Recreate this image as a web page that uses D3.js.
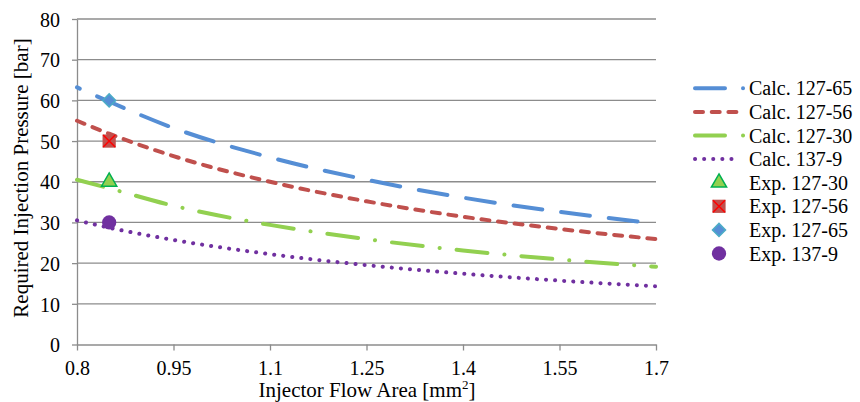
<!DOCTYPE html>
<html>
<head>
<meta charset="utf-8">
<script src="https://cdn.jsdelivr.net/npm/d3@7"></script>
<style>
  body { margin: 0; background: #fff; }
  svg text { font-family: "Liberation Serif", "Times New Roman", serif; fill: #000; }
</style>
</head>
<body>
<div id="chart"></div>
<script>
// injector flow area [mm2] at which the calculated curves were read
const areas = [0.8, 0.85, 0.95, 1.1, 1.25, 1.4, 1.55, 1.7]

const calc12765 = [63.2, 59.7, 53.2, 46.0, 40.5, 36.1, 32.6, 29.7]
const calc12756 = [55.0, 51.8, 46.3, 40.0, 35.2, 31.4, 28.4, 25.9]
const calc12730 = [40.5, 38.4, 34.1, 29.4, 25.9, 23.1, 20.9, 19.1]
const calc1379  = [30.5, 28.7, 25.7, 22.2, 19.5, 17.4, 15.7, 14.3]

const expNames  = ["Exp. 127-30", "Exp. 127-56", "Exp. 127-65", "Exp. 137-9"]
const expArea   = [0.85, 0.85, 0.85, 0.85]
const expValues = [40, 50, 60, 30]

const xTicks = [0.8, 0.95, 1.1, 1.25, 1.4, 1.55, 1.7]
const yTicks = [0, 10, 20, 30, 40, 50, 60, 70, 80]

const width = 860
const height = 402
const serif = "'Liberation Serif', 'Times New Roman', serif"

const svg = d3.select("#chart").append("svg")
  .attr("width", width)
  .attr("height", height)

const xScale = d3.scaleLinear().domain([0.8, 1.7]).range([77, 656])
const yScale = d3.scaleLinear().domain([0, 80]).range([344.5, 19])

// gridlines
svg.append("g")
  .selectAll("line")
  .data(yTicks.slice(1)).enter().append("line")
    .attr("x1", 77).attr("x2", 656)
    .attr("y1", d => yScale(d)).attr("y2", d => yScale(d))
    .attr("stroke", "#8c8c8c")
    .attr("stroke-width", 1.3)

// axes
const xAxis = d3.axisBottom(xScale).tickValues(xTicks).tickFormat(d3.format("")).tickSize(6).tickSizeOuter(0)
const gx = svg.append("g")
  .attr("transform", "translate(0," + yScale(0) + ")")
  .call(xAxis)
  .attr("font-family", serif)
  .attr("font-size", 20)
gx.select(".domain").attr("stroke", "#8c8c8c").attr("stroke-width", 1.3)
gx.selectAll(".tick line").attr("stroke", "#8c8c8c").attr("stroke-width", 1.3)
gx.selectAll("text").attr("y", 30).attr("dy", 0).attr("fill", "#000")

const yAxis = d3.axisLeft(yScale).tickValues(yTicks).tickSize(5).tickPadding(12).tickSizeOuter(0)
const gy = svg.append("g")
  .attr("transform", "translate(77,0)")
  .call(yAxis)
  .attr("font-family", serif)
  .attr("font-size", 20)
gy.select(".domain").attr("stroke", "#8c8c8c").attr("stroke-width", 1.3)
gy.selectAll(".tick line").attr("stroke", "#8c8c8c").attr("stroke-width", 1.3)
gy.selectAll("text").attr("dy", "0.36em").attr("fill", "#000")

// axis titles
svg.append("text")
  .text("Required Injection Pressure [bar]")
  .attr("text-anchor", "middle")
  .attr("font-size", 21)
  .attr("transform", "translate(28,178)rotate(-90)")

const xTitle = svg.append("text")
  .attr("text-anchor", "middle")
  .attr("font-size", 21)
  .attr("x", 367)
  .attr("y", 397)
xTitle.append("tspan").text("Injector Flow Area [mm")
xTitle.append("tspan").text("2").attr("font-size", 13).attr("dy", -8)
xTitle.append("tspan").text("]").attr("dy", 8)

// calculated curves
const series = [
  { name: "Calc. 127-65", values: calc12765, color: "#558ed5", dash: "29,19", offset: 26, legendDash: "30,18" },
  { name: "Calc. 127-56", values: calc12756, color: "#c0504d", dash: "8,8.7", offset: 0, legendDash: "8,8.7" },
  { name: "Calc. 127-30", values: calc12730, color: "#92d050", dash: "31,17,0.1,17", offset: 4, legendDash: "30,18" },
  { name: "Calc. 137-9",  values: calc1379,  color: "#7030a0", dash: "0.1,9", offset: 0, legendDash: "0.1,9" }
]

const line = d3.line()
  .x((d, i) => xScale(areas[i]))
  .y(d => yScale(d))
  .curve(d3.curveMonotoneX)

svg.append("g").attr("class", "curves")
  .selectAll("path")
  .data(series.slice().reverse()).enter().append("path")
    .attr("d", d => line(d.values))
    .attr("fill", "none")
    .attr("stroke", d => d.color)
    .attr("stroke-width", 4)
    .attr("stroke-linecap", "round")
    .attr("stroke-dasharray", d => d.dash)
    .attr("stroke-dashoffset", d => d.offset)

// experimental points
const symbols = [
  { type: d3.symbolTriangle, size: 100, fill: "#92d050", stroke: "#00b050", rotate: 0 },
  { type: d3.symbolSquare, size: 175, fill: "#c0504d", stroke: "none", rotate: 0 },
  { type: d3.symbolSquare, size: 85, fill: "#558ed5", stroke: "#4bacc6", rotate: 45 },
  { type: d3.symbolCircle, size: 160, fill: "#7030a0", stroke: "none", rotate: 0 }
]

function drawMarker(g, i) {
  const s = symbols[i]
  g.append("path")
    .attr("d", d3.symbol().type(s.type).size(s.size)())
    .attr("transform", "rotate(" + s.rotate + ")")
    .attr("fill", s.fill)
    .attr("stroke", s.stroke)
    .attr("stroke-width", 1.5)
  if (i === 1) {
    g.append("path")
      .attr("d", "M-6,-6L6,6M-6,6L6,-6")
      .attr("stroke", "#ff0000")
      .attr("stroke-width", 1.5)
  }
}

expNames.forEach((name, i) => {
  const g = svg.append("g")
    .attr("transform", "translate(" + xScale(expArea[i]) + "," + yScale(expValues[i]) + ")")
  drawMarker(g, i)
})

// legend
const legend = svg.append("g").attr("class", "legend")
const rowY = d3.scaleLinear().domain([0, 7]).range([88.3, 253.5])

series.forEach((s, i) => {
  const y = rowY(i)
  const len = s.legendDash === "30,18" ? 48.05 : (s.legendDash === "0.1,9" ? 45.1 : 42)
  legend.append("line")
    .attr("x1", 695).attr("x2", 695 + len)
    .attr("y1", y).attr("y2", y)
    .attr("stroke", s.color)
    .attr("stroke-width", 4)
    .attr("stroke-linecap", "round")
    .attr("stroke-dasharray", s.legendDash)
  legend.append("text")
    .text(s.name)
    .attr("x", 749).attr("y", y).attr("dy", "0.35em")
    .attr("font-size", 20)
})

expNames.forEach((name, i) => {
  const y = rowY(i + 4)
  const g = legend.append("g").attr("transform", "translate(719," + y + ")")
  drawMarker(g, i)
  legend.append("text")
    .text(name)
    .attr("x", 749).attr("y", y).attr("dy", "0.35em")
    .attr("font-size", 20)
})
</script>
</body>
</html>
